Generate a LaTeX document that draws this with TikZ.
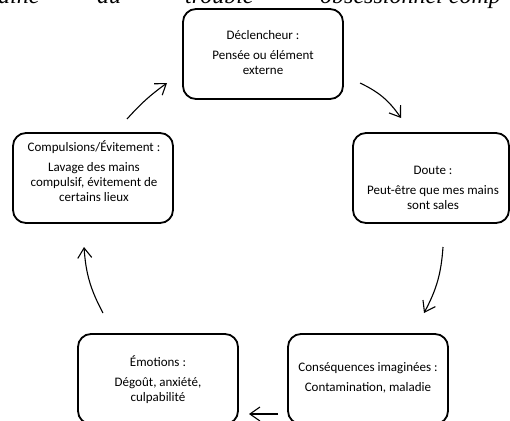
\documentclass[tikz,border=0pt]{standalone}
\usepackage{fontspec}
\setmainfont{Carlito}
\newfontfamily\headfont{Liberation Serif}
\usetikzlibrary{arrows.meta}
\begin{document}
\begin{tikzpicture}[x=1pt,y=-1pt,
  box/.style={draw, line width=1.8pt, rounded corners=13pt, minimum width=160pt, minimum height=90pt, inner sep=0pt},
  txt/.style={align=center, anchor=north, inner sep=0pt, font=\fontsize{13}{15}\selectfont},
  conn/.style={line width=1.1pt, -{Straight Barb[length=10pt,width=14pt]}},
  head/.style={anchor=base west, inner sep=0pt, font=\headfont\itshape\fontsize{24}{28}\selectfont}]
\useasboundingbox (0,0) rectangle (510,420);
% clipped heading line
\node[head] (h1) at (-2,3.5) {aine};
\node[head] (h2) at (97,3.5) {du};
\node[head] (h3) at (185,3.5) {trouble};
\node[head] (h4) at (320,3.5) {obsessionnel comp};
% boxes
\node[box] (top) at (263,54) {};
\node[box] (left) at (93,178) {};
\node[box, minimum width=156pt] (right) at (431,178) {};
\node[box] (bl) at (158,379) {};
\node[box] (br) at (368,379) {};
% texts
\node[txt] (ttop) at (263,30) {Déclencheur :\\[5pt] Pensée ou élément\\ externe};
\node[txt] (tleft) at (94,140) {Compulsions/Évitement :\\[5pt] Lavage des mains\\ compulsif, évitement de\\ certains lieux};
\node[txt] (tright) at (433,166) {Doute :\\[5pt] Peut-être que mes mains\\ sont sales};
\node[txt] (tbl) at (158,355) {Émotions :\\[5pt] Dégoût, anxiété,\\ culpabilité};
\node[txt] (tbr) at (368,362) {Conséquences imaginées :\\[5pt] Contamination, maladie};
% arrow end points
\coordinate (a1s) at (127,119); \coordinate (a1e) at (167,83);
\coordinate (a2s) at (360,83);  \coordinate (a2e) at (401,118);
\coordinate (a3s) at (443,247); \coordinate (a3e) at (424,313);
\coordinate (a4s) at (278,414); \coordinate (a4e) at (249,414);
\coordinate (a5s) at (103,313); \coordinate (a5e) at (84,247);
\draw[conn] (a1s) to[bend left=6] (a1e);
\draw[conn] (a2s) to[bend left=15] (a2e);
\draw[conn] (a3s) to[bend left=12] (a3e);
\draw[conn] (a4s) -- (a4e);
\draw[conn] (a5s) to[bend left=12] (a5e);
\end{tikzpicture}
\end{document}
